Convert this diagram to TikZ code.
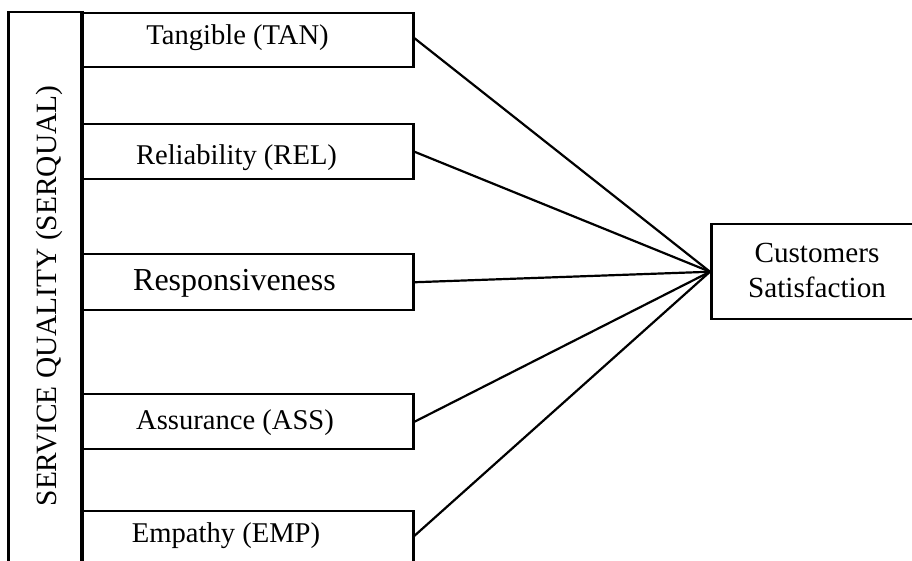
\documentclass[tikz,border=0pt]{standalone}
\usepackage{fontspec}
\setmainfont{Liberation Serif}
\begin{document}
\begin{tikzpicture}[x=0.5pt,y=-0.5pt,
  box/.style={draw, line width=1.25pt, rectangle, inner sep=0pt, anchor=north west},
  lbl/.style={font=\fontsize{14.3}{17.5}\selectfont, anchor=base, inner sep=0pt},
  conn/.style={line width=1.1pt}]
\useasboundingbox (0,0) rectangle (912,561);
\clip (0,0) rectangle (912,561);
% vertical group box
\node[box, minimum width=36.5pt, minimum height=300pt] (sq) at (7,11) {};
\node[rotate=90, anchor=base, inner sep=0pt, font=\fontsize{14.7}{17}\selectfont] (sqt) at (56,296) {SERVICE QUALITY (SERQUAL)};
\draw[line width=1.8pt] (sq.north east) -- (sq.south east);
% dimension boxes
\node[box, minimum width=166pt, minimum height=27pt] (tan) at (80,12) {};
\node[box, minimum width=166pt, minimum height=27.5pt] (rel) at (80,123) {};
\node[box, minimum width=166pt, minimum height=28pt] (res) at (80,253) {};
\node[box, minimum width=166pt, minimum height=27.5pt] (ass) at (80,393) {};
\node[box, minimum width=166pt, minimum height=27.5pt] (emp) at (80,510) {};
\node[lbl] (tant) at (237.5,45) {Tangible (TAN)};
\node[lbl] (relt) at (236.5,165) {Reliability (REL)};
\node[lbl, font=\fontsize{16}{17.5}\selectfont] (rest) at (234.5,291) {Responsiveness};
\node[lbl] (asst) at (235,430) {Assurance (ASS)};
\node[lbl] (empt) at (226,543) {Empathy (EMP)};
% outcome box (its right side runs off the picture)
\node[box, minimum width=160pt, minimum height=47.5pt] (cs) at (710,223) {};
\node[lbl, font=\fontsize{14.6}{17.5}\selectfont] (cst1) at (817,263) {Customers};
\node[lbl, font=\fontsize{14.6}{17.5}\selectfont] (cst2) at (817,298) {Satisfaction};
% connectors
\draw[conn] (tan.east) ++(0,-2) coordinate (tanE) (tanE) -- (cs.west);
\draw[conn] (rel.east) -- (cs.west);
\draw[conn] (res.east) -- (cs.west);
\draw[conn] (ass.east) -- (cs.west);
\draw[conn] (emp.east) ++(0,-3) coordinate (empE) (empE) -- (cs.west);
\end{tikzpicture}
\end{document}
